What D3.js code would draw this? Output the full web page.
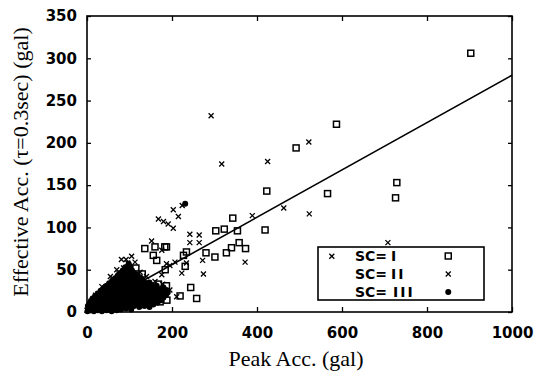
<!DOCTYPE html>
<html>
<head>
<meta charset="utf-8">
<script src="https://cdn.jsdelivr.net/npm/d3@7/dist/d3.min.js"></script>
<style>
body { margin: 0; background: #fff; }
svg { display: block; }
.label { font-family: "Liberation Serif", "Times New Roman", serif; font-size: 22px; fill: #000; }
.legend text { font-family: "DejaVu Sans", sans-serif; font-weight: bold; font-size: 14px; fill: #000; }
</style>
</head>
<body>
<svg id="chart" width="539" height="374"></svg>
<script>
/**
 * Data: [peak acc (gal), effective acc (gal)].
 */
const xTicks = [0, 200, 400, 600, 800, 1000],
    yTicks = [0, 50, 100, 150, 200, 250, 300, 350];

const legendLabels = ['I', 'II', 'III'];

// SC = I, open squares
const sc1 = [
    [903, 306], [587, 222], [492, 194], [423, 143], [566, 140], [729, 153], [726, 135],
    [343, 111], [303, 96], [323, 98], [354, 96], [419, 97], [358, 82], [373, 75], [340, 76],
    [328, 70], [280, 70], [301, 65], [244, 29], [258, 16], [219, 19], [168, 33], [187, 31],
    [168, 22], [187, 77], [234, 71], [227, 67], [231, 54], [184, 50], [136, 75], [160, 77],
    [183, 77], [156, 67], [164, 61], [150, 30], [165, 20], [172, 12], [188, 14], [140, 33],
    [180, 24], [130, 28], [120, 22], [115, 52], [130, 45]
];

// SC = II, crosses
const sc2 = [
    [292, 232], [317, 175], [425, 178], [522, 201], [463, 123], [523, 116], [389, 114],
    [576, 66], [708, 82], [168, 110], [180, 107], [191, 104], [203, 99], [203, 121], [215, 113],
    [224, 126], [242, 92], [264, 91], [242, 82], [264, 82], [372, 59], [272, 61], [274, 45],
    [223, 46], [207, 59], [187, 57], [195, 55], [176, 73], [152, 84], [105, 66], [81, 62],
    [113, 59], [234, 58], [176, 44], [211, 18], [20, 20], [45, 30], [62, 39], [75, 45],
    [86, 52], [96, 58], [125, 47], [140, 42], [160, 36], [178, 33], [195, 26], [0, 2], [3, 6],
    [92, 62], [70, 50], [55, 42], [35, 30]
];

// SC = III, filled dots (most of them hidden in the dense cluster near the origin)
const sc3 = [
    [231, 128],
    [1, 1], [8, 2], [16, 1], [25, 2], [35, 1], [46, 2], [58, 1], [70, 2],
    [3, 4], [12, 3], [22, 4], [33, 3], [44, 4], [56, 3], [68, 4], [80, 3], [92, 4], [104, 3],
    [2, 7], [10, 6], [20, 7], [30, 6], [41, 7], [52, 6], [63, 7], [75, 6], [87, 7], [99, 6],
    [111, 7], [123, 6], [135, 7], [147, 6],
    [6, 10], [15, 9], [26, 10], [37, 9], [48, 10], [60, 9], [72, 10], [84, 9], [96, 10],
    [108, 9], [120, 10], [132, 9], [144, 10], [156, 9], [166, 11],
    [9, 13], [19, 12], [30, 13], [42, 12], [54, 13], [66, 12], [78, 13], [90, 12], [102, 13],
    [114, 12], [126, 13], [138, 12], [150, 13], [162, 12], [174, 14],
    [13, 16], [24, 15], [35, 16], [47, 15], [59, 16], [71, 15], [83, 16], [95, 15], [107, 16],
    [119, 15], [131, 16], [143, 15], [155, 16], [167, 15], [180, 17],
    [19, 19], [29, 18], [40, 19], [52, 18], [64, 19], [76, 18], [88, 19], [100, 18], [112, 19],
    [124, 18], [136, 19], [148, 18], [160, 19], [172, 18], [186, 20],
    [25, 22], [35, 21], [46, 22], [58, 21], [70, 22], [82, 21], [94, 22], [106, 21], [118, 22],
    [130, 21], [142, 22], [154, 21], [166, 22], [178, 21], [190, 23],
    [32, 25], [42, 24], [53, 25], [65, 24], [77, 25], [89, 24], [101, 25], [113, 24], [125, 25],
    [137, 24], [149, 25], [161, 24], [173, 25], [185, 26],
    [39, 28], [50, 27], [61, 28], [72, 27], [84, 28], [96, 27], [108, 28], [120, 27], [132, 28],
    [144, 27], [156, 28], [168, 27], [180, 29],
    [46, 31], [57, 30], [68, 31], [80, 30], [92, 31], [104, 30], [116, 31], [128, 30], [140, 31],
    [152, 32], [164, 31],
    [52, 34], [63, 33], [75, 34], [87, 33], [99, 34], [111, 33], [123, 34], [135, 35], [147, 35],
    [59, 37], [70, 36], [82, 37], [94, 36], [106, 37], [118, 38], [130, 38],
    [66, 40], [77, 39], [89, 40], [101, 39], [113, 41], [125, 41],
    [72, 43], [83, 42], [95, 43], [107, 44], [118, 44],
    [78, 46], [89, 45], [100, 47], [111, 46],
    [84, 49], [95, 50], [106, 49],
    [90, 53], [101, 54],
    [98, 57]
];

// Regression line end points
const fitX = [0, 1000],
    fitY = [0, 280];

/**
 * Layout.
 */
const plot = { left: 87, right: 512, top: 16, bottom: 312 };

const svg = d3.select('#chart');

const xScale = d3.scaleLinear().domain([0, 1000]).range([plot.left, plot.right]),
    yScale = d3.scaleLinear().domain([0, 350]).range([plot.bottom, plot.top]);

/**
 * Axes: ticks point inward on all four sides, labels only bottom and left.
 */
svg.append('g')
    .attr('transform', 'translate(0,' + plot.bottom + ')')
    .call(d3.axisBottom(xScale).tickValues(xTicks).tickSize(-5).tickPadding(15).tickFormat(d3.format('d')));
svg.append('g')
    .attr('transform', 'translate(' + plot.left + ',0)')
    .call(d3.axisLeft(yScale).tickValues(yTicks).tickSize(-4).tickPadding(10).tickFormat(d3.format('d')));
svg.append('g')
    .attr('transform', 'translate(0,' + plot.top + ')')
    .call(d3.axisTop(xScale).tickValues(xTicks).tickSize(-5).tickFormat(''));
svg.append('g')
    .attr('transform', 'translate(' + plot.right + ',0)')
    .call(d3.axisRight(yScale).tickValues(yTicks).tickSize(-4).tickFormat(''));

svg.selectAll('.domain').remove();
svg.selectAll('.tick line').attr('stroke', '#000').attr('stroke-width', 1.3);
svg.selectAll('.tick text')
    .style('font-family', '"DejaVu Sans", sans-serif')
    .style('font-weight', '700')
    .style('font-size', '15px')
    .attr('fill', '#000');

// frame
svg.append('rect')
    .attr('x', plot.left)
    .attr('y', plot.top)
    .attr('width', plot.right - plot.left)
    .attr('height', plot.bottom - plot.top)
    .attr('fill', 'none')
    .attr('stroke', '#000')
    .attr('stroke-width', 1.6);

/**
 * Markers.
 */
function drawSquares(g, data) {
    g.selectAll('.sq').data(data).enter().append('rect')
        .attr('class', 'sq')
        .attr('x', d => xScale(d[0]) - 3)
        .attr('y', d => yScale(d[1]) - 3)
        .attr('width', 6)
        .attr('height', 6)
        .attr('fill', 'none')
        .attr('stroke', '#000')
        .attr('stroke-width', 1.5);
}

function drawCrosses(g, data) {
    const s = 2.5;
    g.selectAll('.cr').data(data).enter().append('path')
        .attr('class', 'cr')
        .attr('d', d => {
            const cx = xScale(d[0]), cy = yScale(d[1]);
            return 'M' + (cx - s) + ',' + (cy - s) + 'L' + (cx + s) + ',' + (cy + s) +
                'M' + (cx - s) + ',' + (cy + s) + 'L' + (cx + s) + ',' + (cy - s);
        })
        .attr('stroke', '#000')
        .attr('stroke-width', 1.3)
        .attr('fill', 'none');
}

function drawDots(g, data) {
    g.selectAll('.dot').data(data).enter().append('circle')
        .attr('class', 'dot')
        .attr('cx', d => xScale(d[0]))
        .attr('cy', d => yScale(d[1]))
        .attr('r', 3)
        .attr('fill', '#000');
}

const points = svg.append('g').attr('class', 'points');
drawDots(points.append('g'), sc3);
drawCrosses(points.append('g'), sc2);
drawSquares(points.append('g'), sc1);

// regression line
svg.append('path')
    .datum(d3.zip(fitX, fitY))
    .attr('d', d3.line().x(d => xScale(d[0])).y(d => yScale(d[1])))
    .attr('fill', 'none')
    .attr('stroke', '#000')
    .attr('stroke-width', 1.6);

/**
 * Axis titles.
 */
svg.append('text')
    .attr('class', 'label')
    .attr('x', 296)
    .attr('y', 366)
    .attr('text-anchor', 'middle')
    .text('Peak Acc. (gal)');

svg.append('text')
    .attr('class', 'label')
    .attr('transform', 'translate(28,162) rotate(-90)')
    .attr('text-anchor', 'middle')
    .text('Effective Acc. (τ=0.3sec) (gal)');

/**
 * Legend.
 */
const legend = svg.append('g').attr('class', 'legend');
legend.append('rect')
    .attr('x', 318)
    .attr('y', 247)
    .attr('width', 166)
    .attr('height', 53)
    .attr('fill', 'none')
    .attr('stroke', '#000')
    .attr('stroke-width', 1.6);

const rowY = [261, 279, 297],
    numX = [391, 391, 393];

legendLabels.forEach((lab, i) => {
    const t = legend.append('text').attr('x', 355).attr('y', rowY[i]);
    t.append('tspan').text('SC=');
    t.append('tspan').attr('x', numX[i]).attr('letter-spacing', 2).text(lab);
});

const lx = xScale(850); // legend marker column
drawSquares(legend.append('g'), [[xScale.invert(lx), yScale.invert(256)]]);
drawCrosses(legend.append('g'), [[xScale.invert(lx), yScale.invert(274)]]);
drawDots(legend.append('g'), [[xScale.invert(lx), yScale.invert(292)]]);
</script>
</body>
</html>
